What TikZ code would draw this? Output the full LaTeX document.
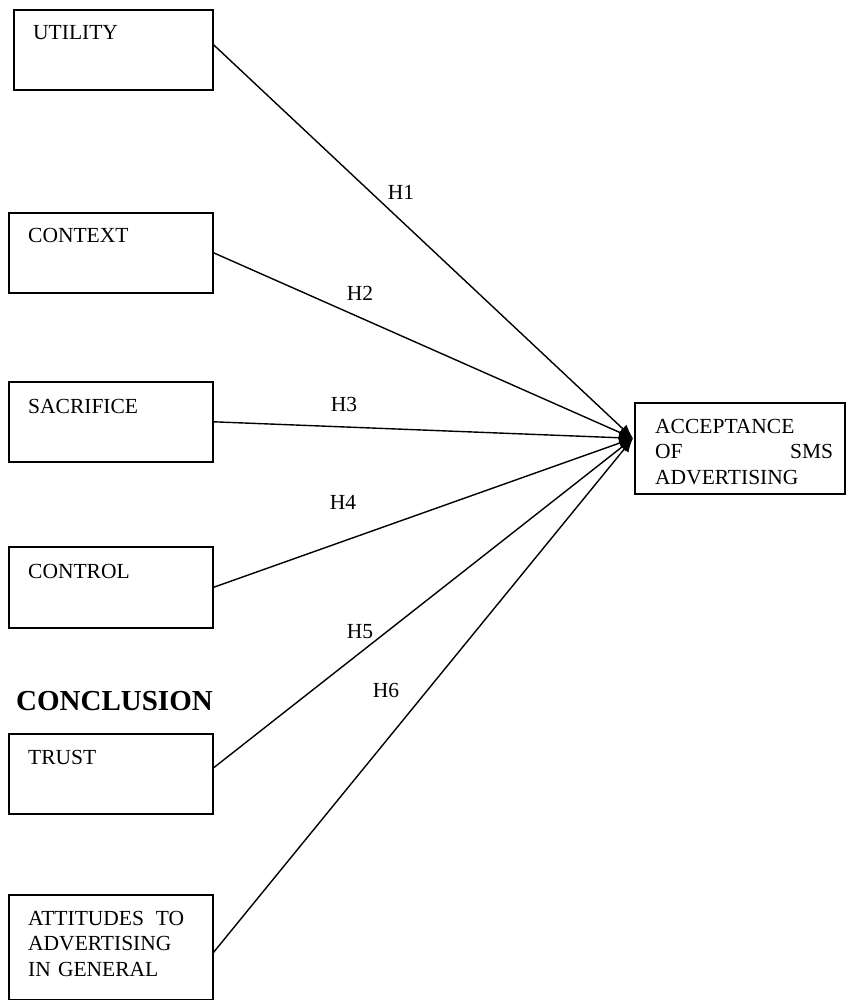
\documentclass[tikz,border=0pt]{standalone}
\usepackage{fontspec}
\setmainfont{Liberation Serif}
\usetikzlibrary{arrows.meta,calc}
\begin{document}
\begin{tikzpicture}[x=1pt,y=-1pt,
  box/.style={draw, line width=1.6pt, inner sep=0pt, anchor=north west, minimum width=204pt, minimum height=80pt},
  lbl/.style={anchor=base west, inner sep=0pt, align=left, font=\fontsize{21.5}{25.5}\selectfont},
  hyp/.style={inner sep=0pt, font=\fontsize{21.5}{25.5}\selectfont},
  conn/.style={line width=1.4pt, -{Latex[length=14pt,width=11pt]}}]
\useasboundingbox (0,0) rectangle (846,1000);

\node[box, minimum width=199pt] (util) at (13,9) {};
\node[lbl] (utilt) at (33,40) {UTILITY};
\node[box] (cont) at (8,212) {};
\node[lbl] (contt) at (28,243) {CONTEXT};
\node[box] (sacr) at (8,381) {};
\node[lbl] (sacrt) at (28,413) {SACRIFICE};
\node[box, minimum height=81pt] (ctrl) at (8,546) {};
\node[lbl] (ctrlt) at (28,578) {CONTROL};
\node[box] (trust) at (8,733) {};
\node[lbl] (trustt) at (28,764) {TRUST};
\node[box, minimum height=105pt] (att) at (8,894) {};
\node[lbl, text width=180pt] (attt) at (28,925) {ATTITUDES\hspace{0.55em}TO\\ADVERTISING\\IN GENERAL};

\node[box, minimum width=210pt, minimum height=91pt] (acc) at (634,402) {};
\node[lbl, text width=178pt] (acct) at (655,433) {ACCEPTANCE\\OF\hfill SMS\\ADVERTISING};

\node[anchor=base west, inner sep=0pt, font=\fontsize{29}{33}\selectfont\bfseries] (concl) at (16,710) {CONCLUSION};

\coordinate (tip) at ([yshift=10pt,xshift=-1pt]acc.west);

\draw[conn] ([yshift=5pt]util.east) -- (tip);
\draw[conn] (cont.east) -- (tip);
\draw[conn] (sacr.east) -- (tip);
\draw[conn] (ctrl.east) -- (tip);
\draw[conn] ([yshift=6pt]trust.east) -- (tip);
\draw[conn] ([yshift=-5pt]att.east) -- (tip);

\node[hyp] (h1) at (401,192) {H1};
\node[hyp] (h2) at (360,293) {H2};
\node[hyp] (h3) at (344,404) {H3};
\node[hyp] (h4) at (343,502) {H4};
\node[hyp] (h5) at (360,632) {H5};
\node[hyp] (h6) at (386,690) {H6};
\end{tikzpicture}
\end{document}
